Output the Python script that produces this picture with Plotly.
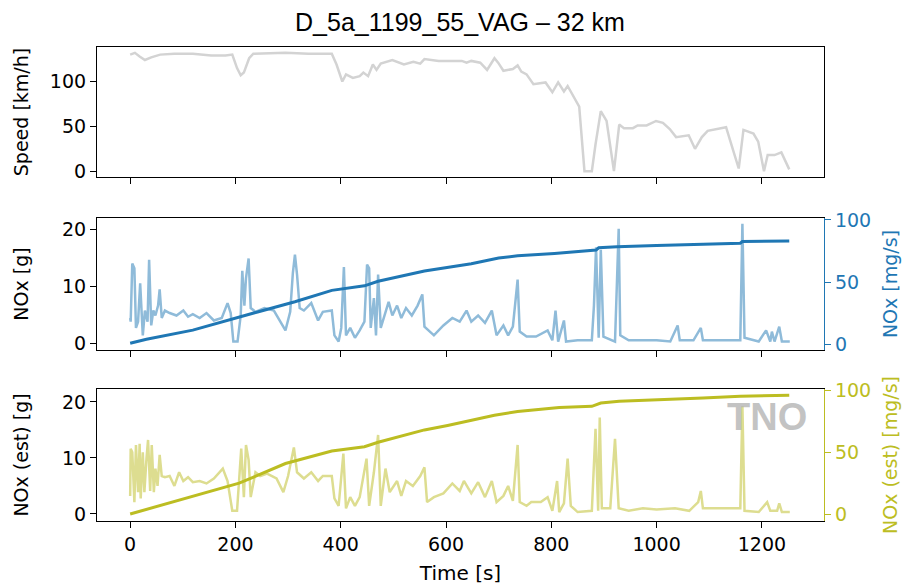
import plotly.graph_objects as go

# ---------------- data ----------------
speed_t = [0, 9, 18, 28, 40, 57, 84, 119, 154, 181, 194, 203, 210, 216, 226, 234, 295, 339, 383, 392,
           403, 410, 423, 436, 443, 452, 461, 468, 476, 498, 520, 538, 551, 559, 586, 630, 639, 648, 665,
           678, 692, 699, 709, 727, 736, 743, 753, 766, 789, 802, 813, 824, 831, 844, 853, 863, 877, 884,
           894, 905, 919, 929, 938, 955, 964, 981, 999, 1012, 1025, 1037, 1061, 1073, 1086, 1097, 1115,
           1132, 1143, 1156, 1165, 1184, 1193, 1204, 1211, 1224, 1237, 1252]
speed_v = [130, 132, 128, 124, 127, 130, 131, 131, 129, 129, 130, 115, 107, 110, 126, 131, 132, 131, 131, 119,
           100, 108, 104, 106, 110, 106, 119, 113, 120, 124, 119, 122, 120, 125, 123, 123, 121, 123, 121,
           113, 126, 121, 112, 114, 118, 111, 108, 97, 99, 88, 99, 89, 95, 82, 72, 0, 0, 30,
           67, 56, 0, 52, 48, 48, 51, 51, 56, 54, 47, 38, 40, 25, 38, 45, 47,
           49, 28, 3, 46, 42, 33, 0, 18, 18, 21, 2]

nox_cum_t = [0, 31, 119, 207, 242, 313, 383, 445, 471, 559, 648, 700, 736, 806, 885, 890, 925, 1000, 1159, 1163, 1252]
nox_cum_v = [0, 0.7, 2.3, 4.5, 5.5, 7.3, 9.3, 10.1, 10.9, 12.7, 14.0, 15.0, 15.4, 15.8, 16.4, 16.8, 17.0, 17.2, 17.6, 17.9, 18.0]

nox_t = [0, 1, 4, 8, 11, 15, 19, 24, 28, 33, 36, 40, 44, 48, 53, 56, 60, 66, 75, 88, 101, 110, 119, 132, 145,
         159, 174, 185, 191, 196, 204, 210, 213, 217, 220, 225, 229, 238, 255, 273, 295, 304, 309, 313, 317,
         322, 330, 344, 357, 366, 383, 388, 396, 401, 406, 410, 418, 427, 436, 445, 450, 454, 457, 463, 467,
         471, 476, 485, 491, 498, 507, 515, 524, 535, 546, 555, 559, 577, 595, 612, 626, 639, 648, 661, 674,
         687, 696, 709, 718, 727, 736, 740, 753, 771, 793, 802, 808, 813, 824, 828, 850, 877, 881, 885, 890,
         894, 899, 921, 928, 931, 947, 974, 1000, 1026, 1040, 1044, 1070, 1084, 1088, 1123, 1159, 1163, 1167,
         1194, 1208, 1216, 1219, 1224, 1233, 1238, 1253]
nox_v = [21, 18, 65, 61, 13, 18, 49, 7, 27, 18, 68, 15, 27, 23, 31, 44, 21, 27, 25, 23, 27, 22, 24, 21, 25,
         19, 21, 33, 25, 2, 2, 23, 59, 31, 53, 69, 29, 26, 29, 27, 11, 26, 57, 72, 56,
         29, 27, 33, 19, 26, 27, 7, 2, 13, 62, 7, 13, 5, 11, 18, 64, 61, 13, 37, 7,
         56, 13, 26, 34, 23, 31, 21, 29, 23, 31, 40, 14, 7, 15, 21, 18, 27, 18, 23, 17,
         27, 7, 15, 7, 14, 52, 10, 6, 6, 11, 3, 27, 2, 19, 2, 3, 3, 31, 78, 5,
         76, 6, 2, 93, 7, 3, 3, 3, 2, 15, 3, 3, 13, 3, 3, 3, 97, 5,
         2, 11, 2, 10, 2, 14, 2, 2]

est_cum_t = [0, 119, 207, 295, 383, 445, 471, 559, 603, 692, 736, 815, 877, 894, 929, 1088, 1159, 1252]
est_cum_v = [0, 3.1, 5.5, 9.0, 11.25, 12.0, 12.8, 15.0, 15.8, 17.6, 18.3, 19.0, 19.2, 19.8, 20.1, 20.7, 21.0, 21.2]

est_t = [0, 1, 4, 8, 11, 15, 18, 20, 24, 27, 31, 34, 38, 41, 45, 48, 52, 56, 60, 66, 75, 84, 93, 101, 110,
         119, 132, 145, 159, 176, 185, 194, 203, 207, 211, 216, 220, 225, 229, 238, 247, 260, 278, 291, 300,
         311, 317, 330, 344, 357, 366, 383, 388, 396, 405, 410, 418, 427, 436, 449, 454, 463, 471, 476, 485,
         493, 507, 515, 524, 537, 551, 559, 564, 577, 595, 612, 626, 634, 648, 661, 674, 687, 696, 709, 718,
         727, 736, 740, 753, 762, 780, 793, 802, 811, 815, 824, 831, 837, 850, 877, 884, 889, 892, 896, 912,
         921, 928, 947, 974, 1000, 1035, 1062, 1079, 1084, 1088, 1123, 1159, 1163, 1167, 1194, 1210, 1216,
         1229, 1233, 1238, 1253]
est_v = [15, 53, 50, 10, 56, 18, 57, 13, 50, 18, 45, 60, 19, 56, 18, 37, 23, 48, 31, 30, 31, 23, 34, 27, 30,
         26, 27, 25, 29, 37, 27, 3, 3, 31, 53, 14, 56, 44, 14, 34, 31, 33, 29, 18, 31,
         54, 34, 29, 34, 27, 31, 31, 13, 7, 49, 5, 14, 7, 14, 45, 7, 34, 64, 7, 37,
         18, 27, 15, 27, 23, 31, 38, 10, 14, 17, 25, 19, 27, 17, 26, 14, 27, 10, 15, 23,
         11, 56, 10, 7, 10, 10, 14, 3, 27, 2, 9, 45, 7, 2, 3, 69, 3, 78, 5, 5,
         61, 5, 3, 5, 4, 5, 3, 10, 19, 5, 5, 5, 87, 3, 2, 10, 3,
         3, 9, 2, 2]

x_ticks = [0, 200, 400, 600, 800, 1000, 1200]

TITLE = "D_5a_1199_55_VAG \u2013 32 km"
BLUE = "#1f77b4"
BLUE_L = "#8fbbd9"
OLIVE = "#bcbd22"
OLIVE_L = "#dddd90"
GREY = "#d3d3d3"

FONT = "DejaVu Sans"
TICKF = dict(family=FONT, size=19, color="black")
XR = [-63, 1318]

fig = go.Figure()
fig.add_trace(go.Scatter(x=speed_t, y=speed_v, mode="lines", line=dict(color=GREY, width=2.5),
                         xaxis="x", yaxis="y", showlegend=False))
fig.add_trace(go.Scatter(x=nox_t, y=nox_v, mode="lines", line=dict(color=BLUE_L, width=2.5),
                         xaxis="x2", yaxis="y2", showlegend=False))
fig.add_trace(go.Scatter(x=nox_cum_t, y=nox_cum_v, mode="lines", line=dict(color=BLUE, width=3),
                         xaxis="x2", yaxis="y3", showlegend=False))
fig.add_trace(go.Scatter(x=est_t, y=est_v, mode="lines", line=dict(color=OLIVE_L, width=2.5),
                         xaxis="x3", yaxis="y4", showlegend=False))
fig.add_trace(go.Scatter(x=est_cum_t, y=est_cum_v, mode="lines", line=dict(color=OLIVE, width=3),
                         xaxis="x3", yaxis="y5", showlegend=False))

D1 = [0.7257, 1.0]
D2 = [0.3608, 0.6392]
D3 = [0.0, 0.2785]

xcommon = dict(range=XR, tickvals=x_ticks, ticks="outside", ticklen=6, tickwidth=1.2, tickcolor="black",
               showline=True, linecolor="black", linewidth=1.2, mirror=True, showgrid=False,
               zeroline=False, tickfont=TICKF, automargin=False)
ycommon = dict(ticks="outside", ticklen=6, tickwidth=1.2, showgrid=False, zeroline=False,
               showline=True, linewidth=1.2, automargin=False)

# page body has an 8px margin, so the figure is 8px smaller and shifted
W, H = 902, 577
fig.update_layout(
    width=W, height=H,
    margin=dict(l=89, r=86, t=39, b=64, autoexpand=False),
    paper_bgcolor="white", plot_bgcolor="white",
    title=dict(text=TITLE, x=(460 - 8) / W, xanchor="center", y=1 - 14 / H, yanchor="middle", automargin=False,
               font=dict(family="Liberation Sans Narrow, Liberation Sans", size=25, color="black")),
    xaxis=dict(**xcommon, anchor="y", domain=[0, 1], showticklabels=False),
    xaxis2=dict(**xcommon, anchor="y2", domain=[0, 1], showticklabels=False, matches="x"),
    xaxis3=dict(**xcommon, anchor="y4", domain=[0, 1], matches="x",
                title=dict(text="Time [s]", font=dict(family=FONT, size=20, color="black"), standoff=12)),
    yaxis=dict(**ycommon, domain=D1, anchor="x", range=[-6.5, 138.5], tickvals=[0, 50, 100],
               linecolor="black", tickcolor="black", mirror=True, tickfont=TICKF,
               title=dict(text="Speed [km/h]", font=dict(family=FONT, size=19, color="black"), standoff=16)),
    yaxis2=dict(**ycommon, domain=D2, anchor="x2", side="right", range=[-4.8, 101.6], tickvals=[0, 50, 100],
                linecolor=BLUE, tickcolor=BLUE, tickfont=dict(family=FONT, size=19, color=BLUE),
                title=dict(text="NOx [mg/s]", font=dict(family=FONT, size=19, color=BLUE), standoff=13)),
    yaxis3=dict(**ycommon, overlaying="y2", anchor="x2", side="left", range=[-1.2, 22.05], tickvals=[0, 10, 20],
                linecolor="black", tickcolor="black", tickfont=TICKF,
                title=dict(text="NOx [g]", font=dict(family=FONT, size=19, color="black"), standoff=28)),
    yaxis4=dict(**ycommon, domain=D3, anchor="x3", side="right", range=[-5.2, 101.0], tickvals=[0, 50, 100],
                linecolor=OLIVE, tickcolor=OLIVE, tickfont=dict(family=FONT, size=19, color=OLIVE),
                title=dict(text="NOx (est) [mg/s]", font=dict(family=FONT, size=19, color=OLIVE), standoff=13)),
    yaxis5=dict(**ycommon, overlaying="y4", anchor="x3", side="left", range=[-1.25, 22.3], tickvals=[0, 10, 20],
                linecolor="black", tickcolor="black", tickfont=TICKF,
                title=dict(text="NOx (est) [g]", font=dict(family=FONT, size=19, color="black"), standoff=28)),
)

fig.add_annotation(text="<b>TNO</b>", xref="paper", yref="paper", x=(767 - 97) / 727, y=(521 - 417) / 474,
                   xanchor="center", yanchor="middle", showarrow=False,
                   font=dict(family="Liberation Sans", size=38, color="rgba(175,175,175,0.75)"))

fig.write_html("out.html")
